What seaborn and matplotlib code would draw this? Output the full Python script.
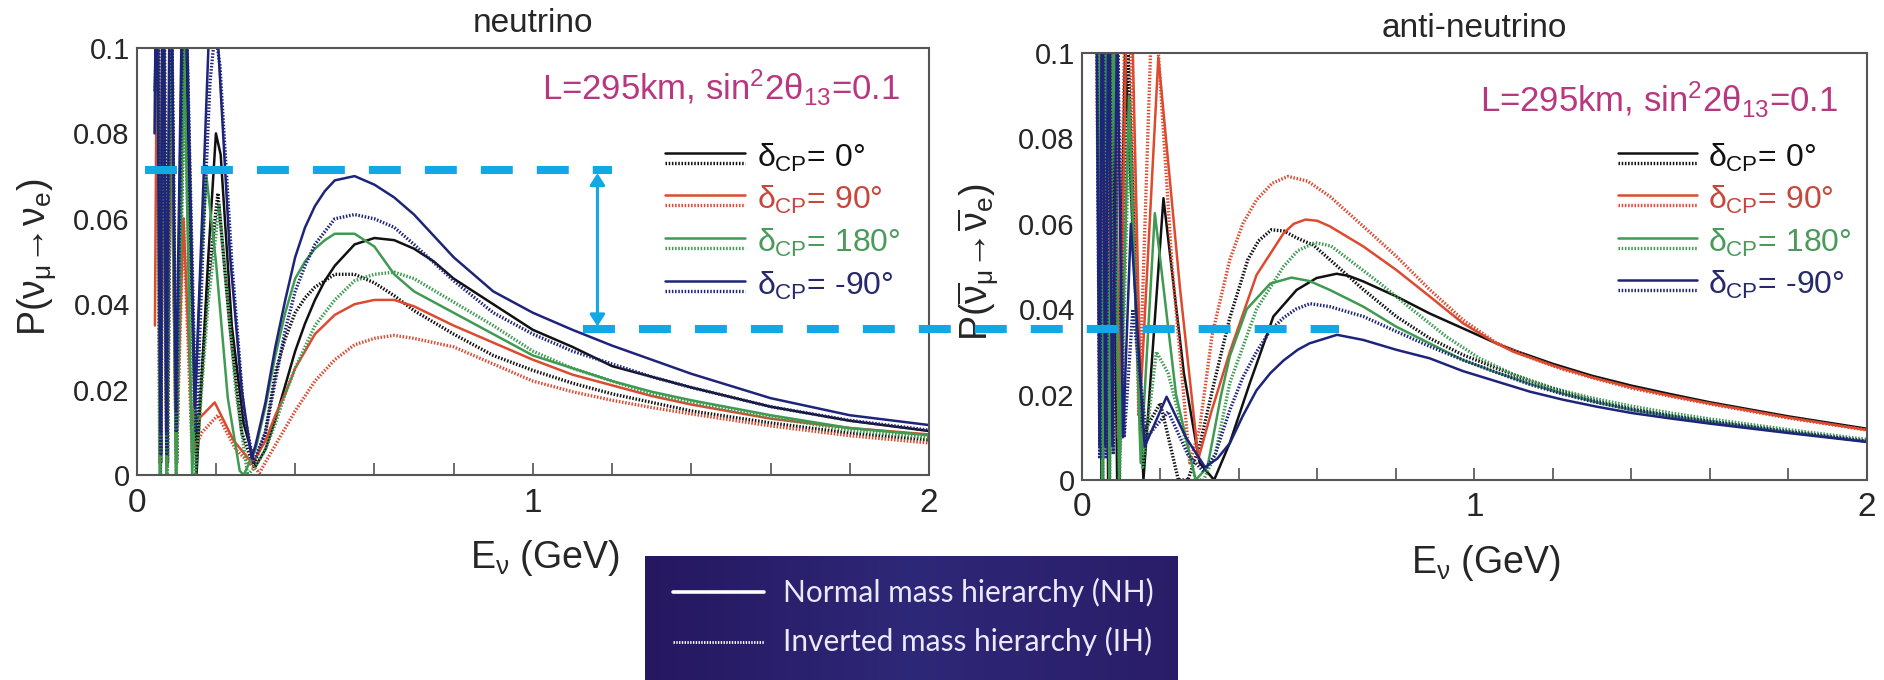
import matplotlib
matplotlib.use("Agg")
import matplotlib.pyplot as plt
import matplotlib.ticker as mticker
import numpy as np
import seaborn as sns
from matplotlib.colors import LinearSegmentedColormap

# ---------------------------------------------------------------- data
# neutrino panel: E (GeV) and P(numu -> nue)
NU_E_0_NH = [0.048, 0.053, 0.060, 0.068, 0.077, 0.087, 0.100, 0.120, 0.151, 0.180, 0.200, 0.212, 0.240, 0.270,
             0.300, 0.325, 0.350, 0.375, 0.400, 0.425, 0.450, 0.475, 0.500, 0.550, 0.600, 0.650, 0.700, 0.750,
             0.800, 0.900, 1.000, 1.100, 1.200, 1.300, 1.400, 1.600, 1.800, 2.000]
NU_P_0_NH = [0.100, 0.130, 0.000, 0.120, 0.002, 0.120, 0.003, 0.110, 0.000, 0.050, 0.080, 0.075, 0.035, 0.012,
             0.002, 0.006, 0.013, 0.021, 0.029, 0.0355, 0.041, 0.0455, 0.049, 0.054, 0.0555, 0.055, 0.053, 0.050,
             0.046, 0.040, 0.034, 0.030, 0.0255, 0.023, 0.0205, 0.016, 0.0127, 0.0103]
NU_E_0_IH = [0.049, 0.055, 0.061, 0.069, 0.078, 0.088, 0.101, 0.121, 0.150, 0.180, 0.205, 0.235, 0.265, 0.295,
             0.325, 0.350, 0.375, 0.400, 0.425, 0.450, 0.500, 0.550, 0.600, 0.650, 0.700, 0.800, 0.900, 1.000,
             1.100, 1.200, 1.300, 1.400, 1.600, 1.800, 2.000]
NU_P_0_IH = [0.100, 0.120, 0.003, 0.120, 0.003, 0.110, 0.003, 0.100, 0.005, 0.045, 0.066, 0.035, 0.010, 0.002,
             0.010, 0.024, 0.032, 0.038, 0.0415, 0.044, 0.047, 0.047, 0.045, 0.042, 0.0385, 0.033, 0.028, 0.0245,
             0.0215, 0.019, 0.017, 0.015, 0.0122, 0.0098, 0.0082]
NU_E_90_NH = [0.046, 0.052, 0.059, 0.066, 0.075, 0.085, 0.099, 0.118, 0.140, 0.155, 0.197, 0.245, 0.290, 0.300,
              0.325, 0.350, 0.375, 0.400, 0.450, 0.500, 0.550, 0.600, 0.650, 0.700, 0.800, 0.900, 1.000, 1.100,
              1.200, 1.300, 1.400, 1.600, 1.800, 2.000]
NU_P_90_NH = [0.035, 0.120, 0.004, 0.120, 0.003, 0.100, 0.005, 0.060, 0.012, 0.013, 0.017, 0.008, 0.003, 0.004,
              0.008, 0.014, 0.019, 0.025, 0.033, 0.0375, 0.040, 0.041, 0.041, 0.0395, 0.035, 0.031, 0.027, 0.0235,
              0.021, 0.0185, 0.0165, 0.0132, 0.011, 0.0095]
NU_E_90_IH = [0.050, 0.058, 0.066, 0.076, 0.086, 0.100, 0.118, 0.140, 0.165, 0.205, 0.250, 0.310, 0.325, 0.350,
              0.375, 0.400, 0.450, 0.500, 0.550, 0.600, 0.650, 0.700, 0.800, 0.900, 1.000, 1.100, 1.200, 1.300,
              1.400, 1.600, 1.800, 2.000]
NU_P_90_IH = [0.110, 0.003, 0.110, 0.002, 0.100, 0.003, 0.060, 0.005, 0.010, 0.014, 0.006, 0.0005, 0.003, 0.007,
              0.011, 0.015, 0.022, 0.027, 0.0305, 0.032, 0.0327, 0.032, 0.030, 0.026, 0.022, 0.0195, 0.0175, 0.0158,
              0.0143, 0.0115, 0.0092, 0.0075]
NU_E_180_NH = [0.045, 0.052, 0.058, 0.066, 0.075, 0.085, 0.099, 0.120, 0.140, 0.160, 0.176, 0.200, 0.230, 0.260,
               0.270, 0.300, 0.325, 0.350, 0.375, 0.400, 0.425, 0.450, 0.475, 0.500, 0.550, 0.600, 0.650, 0.700,
               0.800, 0.900, 1.000, 1.100, 1.200, 1.300, 1.400, 1.600, 1.800, 2.000]
NU_P_180_NH = [0.090, 0.110, 0.000, 0.120, 0.000, 0.120, 0.000, 0.100, 0.000, 0.045, 0.070, 0.050, 0.018, 0.001,
               0.000, 0.006, 0.016, 0.028, 0.038, 0.046, 0.050, 0.053, 0.055, 0.0565, 0.0565, 0.0535, 0.047, 0.043,
               0.038, 0.033, 0.028, 0.025, 0.022, 0.0195, 0.0175, 0.014, 0.011, 0.0093]
NU_E_180_IH = [0.047, 0.053, 0.060, 0.067, 0.077, 0.087, 0.100, 0.120, 0.148, 0.180, 0.208, 0.250, 0.280, 0.300,
               0.325, 0.350, 0.375, 0.400, 0.450, 0.500, 0.550, 0.600, 0.650, 0.700, 0.800, 0.900, 1.000, 1.100,
               1.200, 1.300, 1.400, 1.600, 1.800, 2.000]
NU_P_180_IH = [0.090, 0.110, 0.000, 0.110, 0.000, 0.110, 0.000, 0.090, 0.000, 0.040, 0.063, 0.020, 0.000, 0.002,
               0.006, 0.012, 0.019, 0.025, 0.035, 0.041, 0.0455, 0.047, 0.0475, 0.046, 0.0405, 0.035, 0.029, 0.025,
               0.022, 0.019, 0.017, 0.0135, 0.0105, 0.0087]
NU_E_M90_NH = [0.045, 0.050, 0.060, 0.066, 0.075, 0.085, 0.099, 0.119, 0.147, 0.165, 0.181, 0.193, 0.206, 0.235,
               0.265, 0.290, 0.300, 0.325, 0.350, 0.375, 0.400, 0.425, 0.450, 0.475, 0.500, 0.550, 0.600, 0.650,
               0.700, 0.750, 0.800, 0.900, 1.000, 1.100, 1.200, 1.300, 1.400, 1.600, 1.800, 2.000]
NU_P_M90_NH = [0.080, 0.130, 0.010, 0.140, 0.010, 0.140, 0.015, 0.140, 0.016, 0.060, 0.100, 0.106, 0.100, 0.052,
               0.020, 0.004, 0.007, 0.017, 0.030, 0.041, 0.051, 0.058, 0.063, 0.0665, 0.069, 0.070, 0.068, 0.065,
               0.061, 0.056, 0.051, 0.043, 0.038, 0.034, 0.0303, 0.027, 0.0237, 0.018, 0.014, 0.0117]
NU_E_M90_IH = [0.047, 0.052, 0.061, 0.067, 0.076, 0.086, 0.100, 0.120, 0.150, 0.170, 0.185, 0.198, 0.210, 0.240,
               0.270, 0.295, 0.325, 0.350, 0.375, 0.400, 0.425, 0.450, 0.500, 0.550, 0.600, 0.650, 0.700, 0.800,
               0.900, 1.000, 1.100, 1.200, 1.300, 1.400, 1.600, 1.800, 2.000]
NU_P_M90_IH = [0.090, 0.125, 0.005, 0.130, 0.005, 0.130, 0.010, 0.130, 0.010, 0.060, 0.092, 0.104, 0.096, 0.050,
               0.015, 0.003, 0.010, 0.022, 0.034, 0.043, 0.049, 0.054, 0.060, 0.061, 0.060, 0.058, 0.054, 0.0455,
               0.038, 0.033, 0.029, 0.026, 0.023, 0.0205, 0.016, 0.0128, 0.0105]

# anti-neutrino panel: E (GeV) and P(anti-numu -> anti-nue)
AN_E_0_NH = [0.040, 0.050, 0.058, 0.067, 0.076, 0.090, 0.110, 0.157, 0.208, 0.260, 0.300, 0.337, 0.377, 0.428,
             0.488, 0.547, 0.598, 0.649, 0.680, 0.717, 0.801, 0.886, 0.971, 1.056, 1.100, 1.200, 1.300, 1.400,
             1.500, 1.600, 1.800, 2.000]
AN_P_0_NH = [0.130, 0.000, 0.130, 0.000, 0.120, 0.000, 0.100, 0.000, 0.066, 0.025, 0.004, 0.000, 0.0087, 0.0227,
             0.0383, 0.0445, 0.0473, 0.0483, 0.0478, 0.0465, 0.043, 0.039, 0.0355, 0.032, 0.0304, 0.0272, 0.0244,
             0.0221, 0.0201, 0.0182, 0.0149, 0.0120]
AN_E_0_IH = [0.043, 0.053, 0.061, 0.070, 0.080, 0.095, 0.118, 0.150, 0.200, 0.246, 0.270, 0.300, 0.335, 0.377,
             0.423, 0.450, 0.483, 0.515, 0.547, 0.590, 0.632, 0.717, 0.801, 0.886, 0.971, 1.056, 1.141, 1.226,
             1.310, 1.400, 1.500, 1.600, 1.800, 2.000]
AN_P_0_IH = [0.120, 0.000, 0.120, 0.000, 0.120, 0.000, 0.100, 0.010, 0.018, 0.000, 0.000, 0.008, 0.022, 0.038,
             0.0516, 0.056, 0.0586, 0.0583, 0.0567, 0.055, 0.0516, 0.0446, 0.0383, 0.0332, 0.0293, 0.0262, 0.0232,
             0.0207, 0.0185, 0.0167, 0.0151, 0.0138, 0.0114, 0.0091]
AN_E_90_NH = [0.045, 0.055, 0.063, 0.072, 0.082, 0.095, 0.120, 0.150, 0.195, 0.250, 0.297, 0.330, 0.377, 0.445,
              0.514, 0.540, 0.570, 0.600, 0.632, 0.717, 0.801, 0.886, 0.971, 1.056, 1.100, 1.200, 1.300, 1.400,
              1.500, 1.600, 1.800, 2.000]
AN_P_90_NH = [0.120, 0.010, 0.140, 0.010, 0.140, 0.010, 0.140, 0.020, 0.099, 0.045, 0.005, 0.016, 0.030, 0.048,
              0.0578, 0.060, 0.061, 0.0607, 0.0594, 0.0547, 0.0492, 0.043, 0.0367, 0.032, 0.0300, 0.0268, 0.0240,
              0.0217, 0.0197, 0.0179, 0.0146, 0.0117]
AN_E_90_IH = [0.045, 0.054, 0.062, 0.071, 0.080, 0.093, 0.115, 0.145, 0.175, 0.185, 0.195, 0.230, 0.275, 0.300,
              0.332, 0.377, 0.410, 0.445, 0.485, 0.525, 0.575, 0.632, 0.717, 0.801, 0.886, 0.971, 1.056, 1.141,
              1.226, 1.310, 1.400, 1.500, 1.600, 1.800, 2.000]
AN_P_90_IH = [0.130, 0.010, 0.140, 0.010, 0.140, 0.010, 0.140, 0.015, 0.100, 0.106, 0.100, 0.050, 0.004, 0.012,
              0.034, 0.0516, 0.060, 0.0656, 0.0695, 0.0711, 0.070, 0.0664, 0.0594, 0.0524, 0.0446, 0.0375, 0.0321,
              0.0287, 0.0259, 0.0237, 0.0215, 0.0196, 0.0178, 0.0145, 0.0117]
AN_E_180_NH = [0.042, 0.052, 0.060, 0.070, 0.080, 0.095, 0.120, 0.150, 0.186, 0.240, 0.290, 0.320, 0.355, 0.377,
               0.420, 0.480, 0.534, 0.580, 0.632, 0.717, 0.801, 0.886, 0.971, 1.056, 1.141, 1.226, 1.310, 1.400,
               1.500, 1.600, 1.800, 2.000]
AN_P_180_NH = [0.120, 0.000, 0.120, 0.000, 0.120, 0.000, 0.090, 0.004, 0.0625, 0.020, 0.000, 0.003, 0.020, 0.029,
               0.040, 0.046, 0.0474, 0.0466, 0.0445, 0.0406, 0.0359, 0.032, 0.0281, 0.0252, 0.0225, 0.0202, 0.0182,
               0.0164, 0.0149, 0.0136, 0.0112, 0.0090]
AN_E_180_IH = [0.043, 0.053, 0.061, 0.071, 0.081, 0.096, 0.120, 0.155, 0.190, 0.220, 0.290, 0.310, 0.340, 0.377,
               0.445, 0.514, 0.550, 0.594, 0.635, 0.675, 0.759, 0.843, 0.928, 1.013, 1.098, 1.200, 1.300, 1.400,
               1.500, 1.600, 1.800, 2.000]
AN_P_180_IH = [0.110, 0.000, 0.110, 0.000, 0.110, 0.000, 0.080, 0.003, 0.030, 0.025, 0.000, 0.000, 0.006, 0.0227,
               0.040, 0.050, 0.0537, 0.0556, 0.0548, 0.052, 0.0461, 0.0398, 0.0336, 0.0285, 0.0248, 0.0215, 0.0192,
               0.0173, 0.0157, 0.0143, 0.0118, 0.0095]
AN_E_M90_NH = [0.035, 0.045, 0.052, 0.060, 0.068, 0.078, 0.090, 0.105, 0.125, 0.160, 0.216, 0.265, 0.314, 0.345,
               0.377, 0.410, 0.445, 0.480, 0.514, 0.550, 0.580, 0.650, 0.717, 0.801, 0.886, 0.971, 1.056, 1.141,
               1.226, 1.310, 1.400, 1.500, 1.600, 1.800, 2.000]
AN_P_M90_NH = [0.140, 0.008, 0.130, 0.008, 0.120, 0.008, 0.110, 0.010, 0.060, 0.0078, 0.0195, 0.010, 0.003, 0.005,
               0.0086, 0.015, 0.021, 0.025, 0.028, 0.0305, 0.032, 0.034, 0.0328, 0.0305, 0.0285, 0.0255, 0.0231,
               0.0207, 0.0188, 0.0172, 0.0157, 0.0144, 0.0132, 0.0110, 0.0089]
AN_E_M90_IH = [0.036, 0.046, 0.054, 0.062, 0.070, 0.080, 0.092, 0.108, 0.130, 0.165, 0.220, 0.270, 0.310, 0.340,
               0.377, 0.410, 0.445, 0.480, 0.514, 0.545, 0.581, 0.632, 0.717, 0.801, 0.886, 0.971, 1.056, 1.141,
               1.226, 1.310, 1.400, 1.500, 1.600, 1.800, 2.000]
AN_P_M90_IH = [0.130, 0.005, 0.130, 0.005, 0.120, 0.006, 0.100, 0.010, 0.040, 0.010, 0.016, 0.006, 0.002, 0.006,
               0.0164, 0.024, 0.030, 0.035, 0.038, 0.040, 0.0413, 0.0406, 0.0383, 0.0348, 0.0313, 0.0281, 0.0252,
               0.0224, 0.0201, 0.0182, 0.0165, 0.0150, 0.0137, 0.0113, 0.0091]

DELTA_LABELS = ["0°", "90°", "180°", "-90°"]
DELTA_COLORS = ["#111111", "#dc4a30", "#3f9a52", "#1e247a"]
TEXT_COLORS = ["#111111", "#c8463b", "#4a9a5a", "#262a6b"]
PARAM_TEXT = r"L=295km, sin$^{2}$2$\theta_{13}$=0.1"
GAP_HI, GAP_LO = 0.0714, 0.0343     # cyan markers, in neutrino-panel units
CYAN = "#12a8e6"

NU_CURVES = [(NU_E_0_NH, NU_P_0_NH, NU_E_0_IH, NU_P_0_IH),
             (NU_E_90_NH, NU_P_90_NH, NU_E_90_IH, NU_P_90_IH),
             (NU_E_180_NH, NU_P_180_NH, NU_E_180_IH, NU_P_180_IH),
             (NU_E_M90_NH, NU_P_M90_NH, NU_E_M90_IH, NU_P_M90_IH)]
AN_CURVES = [(AN_E_0_NH, AN_P_0_NH, AN_E_0_IH, AN_P_0_IH),
             (AN_E_90_NH, AN_P_90_NH, AN_E_90_IH, AN_P_90_IH),
             (AN_E_180_NH, AN_P_180_NH, AN_E_180_IH, AN_P_180_IH),
             (AN_E_M90_NH, AN_P_M90_NH, AN_E_M90_IH, AN_P_M90_IH)]

# ---------------------------------------------------------------- style
sns.set_theme(style="white")
plt.rcParams["font.family"] = ["Liberation Sans", "DejaVu Sans"]
plt.rcParams["mathtext.fontset"] = "custom"
plt.rcParams["mathtext.rm"] = "Liberation Sans"
plt.rcParams["mathtext.it"] = "Liberation Sans"
plt.rcParams["mathtext.bf"] = "Liberation Sans:bold"
plt.rcParams["lines.scale_dashes"] = False

W, H = 1884, 680
DOTS = (0, (1.1, 1.2))


def style_axes(ax):
    ax.set_xlim(0, 2)
    ax.set_ylim(0, 0.1)
    ax.xaxis.set_major_locator(mticker.MultipleLocator(1))
    ax.xaxis.set_minor_locator(mticker.MultipleLocator(0.05))
    ax.yaxis.set_major_locator(mticker.MultipleLocator(0.02))
    ax.yaxis.set_minor_locator(mticker.MultipleLocator(0.005))
    ax.yaxis.set_major_formatter(mticker.FuncFormatter(lambda v, _: f"{v:g}"))
    ax.tick_params(which="both", direction="in", top=False, right=False, color="#444444", width=1.1)
    ax.tick_params(axis="x", which="major", length=17, labelsize=24, pad=9)
    ax.tick_params(axis="x", which="minor", length=5)
    ax.tick_params(axis="y", which="major", length=10, labelsize=21, pad=5)
    ax.tick_params(axis="y", which="minor", length=5)
    for sp in ax.spines.values():
        sp.set_color("#555555")
        sp.set_linewidth(1.5)
    sec = ax.secondary_xaxis("bottom")
    sec.set_xticks(np.arange(0.2, 2.0, 0.2))
    sec.tick_params(direction="in", length=9, width=1.1, color="#444444", labelbottom=False)
    sec.spines["bottom"].set_visible(False)
    ax.set_xlabel("")
    ax.set_ylabel("")


def draw_panel(ax, curves, title, ylabel, lx, ty, rows_y, leg_x):
    for (e_nh, p_nh, e_ih, p_ih), col in zip(curves, DELTA_COLORS):
        sns.lineplot(x=e_ih, y=p_ih, ax=ax, color=col, linestyle=DOTS, lw=2.4,
                     sort=False, estimator=None, legend=False)
        sns.lineplot(x=e_nh, y=p_nh, ax=ax, color=col, lw=1.8,
                     sort=False, estimator=None, legend=False)
    style_axes(ax)
    ax.text(0.5, 1.0585, title, transform=ax.transAxes, ha="center", va="center", fontsize=24)
    ax.text(lx, 0.51, ylabel, transform=ax.transAxes, rotation=90, ha="center", va="center", fontsize=27)
    ax.text(0.515, -0.195, r"E$_{\nu}$ (GeV)", transform=ax.transAxes, ha="center", va="center", fontsize=27)
    ax.text(0.963, ty, PARAM_TEXT, transform=ax.transAxes, ha="right", va="center",
            fontsize=25, color="#b8387f")
    x0, x1, xt = leg_x
    for y, lab, col, tcol in zip(rows_y, DELTA_LABELS, DELTA_COLORS, TEXT_COLORS):
        ax.plot([x0, x1], [y + 0.012, y + 0.012], transform=ax.transAxes, color=col, lw=1.8)
        ax.plot([x0, x1], [y - 0.012, y - 0.012], transform=ax.transAxes, color=col, lw=2.4, linestyle=DOTS)
        ax.text(xt, y, r"$\delta_{CP}$= " + lab, transform=ax.transAxes, ha="left", va="center",
                fontsize=23, color=tcol)


fig = plt.figure(figsize=(W / 100, H / 100), dpi=100)
ax1 = fig.add_axes([136.7 / W, 1 - 475 / H, (929 - 136.7) / W, 427 / H])
ax2 = fig.add_axes([1081.8 / W, 1 - 480 / H, (1867 - 1081.8) / W, 427 / H])
ax1.set_zorder(3)

draw_panel(ax1, NU_CURVES, "neutrino", r"P(ν$_{\mu}$→ν$_{e}$)",
           -0.126, 0.906, [0.742, 0.644, 0.543, 0.442], (0.667, 0.768, 0.783))
draw_panel(ax2, AN_CURVES, "anti-neutrino",
           r"P($\overline{\nu}_{\mu}$→$\overline{\nu}_{e}$)",
           -0.132, 0.890, [0.754, 0.656, 0.555, 0.457], (0.683, 0.784, 0.797))

# cyan markers of the CP gap, drawn in neutrino-panel units
ax1.plot([0.021, 1.199], [GAP_HI, GAP_HI], color=CYAN, lw=5.8, dashes=(23, 17.3), clip_on=False, zorder=10)
ax1.plot([1.126, 3.034], [GAP_LO, GAP_LO], color=CYAN, lw=5.8, dashes=(23, 17.3), clip_on=False, zorder=10)
ax1.annotate("", xy=(1.163, GAP_HI - 0.0007), xytext=(1.163, GAP_LO + 0.0005),
             arrowprops=dict(arrowstyle="<|-|>,head_length=0.7,head_width=0.45", color=CYAN,
                             lw=2.2, mutation_scale=10, shrinkA=0, shrinkB=0), zorder=10)

# mass hierarchy key box
bax = fig.add_axes([645 / W, 0, (1178 - 645) / W, 124 / H])
grad = np.linspace(0, 1, 256).reshape(1, -1)
cmap = LinearSegmentedColormap.from_list("box", ["#261760", "#2e2878", "#2a1d68"])
bax.imshow(grad, aspect="auto", cmap=cmap, extent=[0, 1, 0, 1])
bax.set_xlim(0, 1)
bax.set_ylim(0, 1)
bax.axis("off")
bax.plot([0.053, 0.223], [0.71, 0.71], color="white", lw=2.6)
bax.plot([0.053, 0.223], [0.31, 0.31], color="white", lw=2.0, linestyle=(0, (1, 1)))
bax.text(0.259, 0.71, "Normal mass hierarchy (NH)", color="#ece8ff", fontsize=21.5,
         family=["Lato", "DejaVu Sans"], va="center", ha="left")
bax.text(0.259, 0.31, "Inverted mass hierarchy (IH)", color="#ece8ff", fontsize=21.5,
         family=["Lato", "DejaVu Sans"], va="center", ha="left")

fig.savefig("out.png", dpi=100)
